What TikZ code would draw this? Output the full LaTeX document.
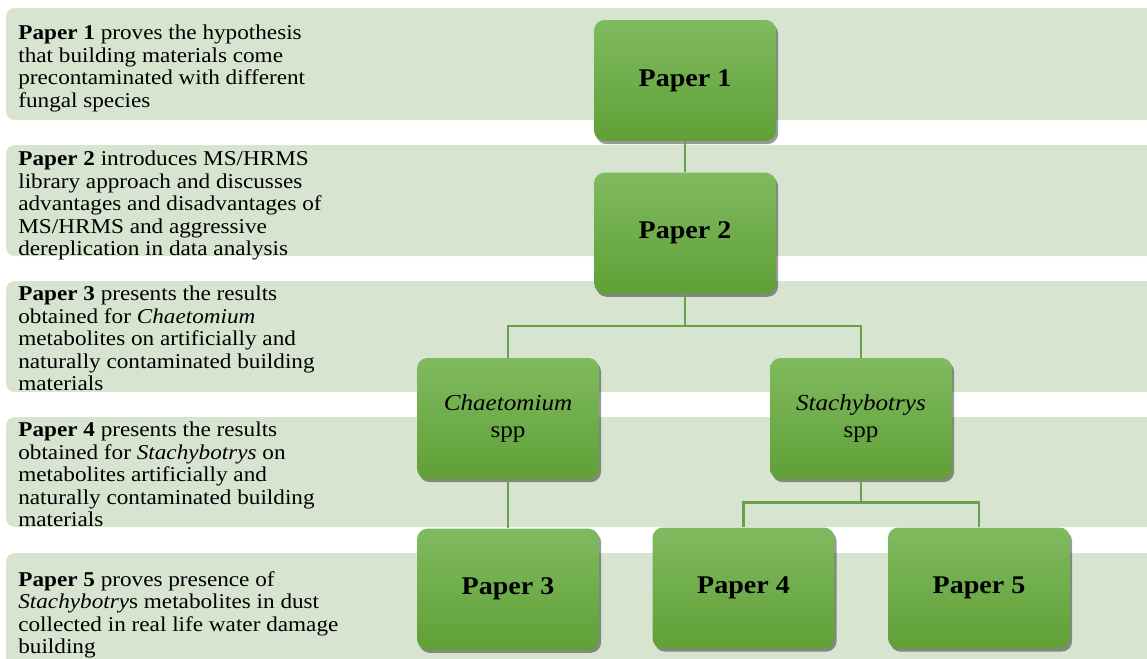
\documentclass[tikz,border=0pt]{standalone}
\usepackage{fontspec}
\setmainfont{Liberation Serif}[FakeStretch=1.1]
\usepackage{xcolor}
\usepackage{tikz}
\usetikzlibrary{positioning,shadows}
\definecolor{bandgreen}{RGB}{215,228,208}
\definecolor{boxtop}{RGB}{128,186,96}
\definecolor{boxbottom}{RGB}{96,160,54}
\definecolor{linkgreen}{RGB}{108,160,72}

\begin{document}
\begin{tikzpicture}[x=0.02cm, y=-0.02cm,
  band/.style={fill=bandgreen, rounded corners=5pt},
  note/.style={anchor=north west, inner sep=0pt, align=left,
    font=\fontsize{12}{12.8}\selectfont},
  paper/.style={rounded corners=6pt, top color=boxtop, bottom color=boxbottom,
    minimum width=3.64cm, minimum height=2.42cm, align=center,
    font=\fontsize{14.5}{16}\selectfont\bfseries,
    drop shadow={shadow xshift=1.2pt, shadow yshift=-1.8pt, fill=black, opacity=.4}},
  genus/.style={paper, font=\fontsize{13}{15.5}\selectfont},
  link/.style={draw=linkgreen, line width=1.5pt}
]
  \clip (0,0) rectangle (1147,659);

  % bands behind the tree
  \fill[band] (6,8) rectangle (1170,120);
  \fill[band] (6,145) rectangle (1170,256);
  \fill[band] (6,281) rectangle (1170,392);
  \fill[band] (6,417) rectangle (1170,527);
  \fill[band] (6,553) rectangle (1170,680);

  \node[note] (t1) at (18,25) {\textbf{Paper 1} proves the hypothesis\\
    that building materials come\\ precontaminated with different\\ fungal species};
  \node[note] (t2) at (18,151) {\textbf{Paper 2} introduces MS/HRMS\\
    library approach and discusses\\ advantages and disadvantages of\\
    MS/HRMS and aggressive\\ dereplication in data analysis};
  \node[note] (t3) at (18,286) {\textbf{Paper 3} presents the results\\
    obtained for \textit{Chaetomium}\\ metabolites on artificially and\\
    naturally contaminated building\\ materials};
  \node[note] (t4) at (18,422) {\textbf{Paper 4} presents the results\\
    obtained for \textit{Stachybotrys} on\\ metabolites artificially and\\
    naturally contaminated building\\ materials};
  \node[note] (t5) at (18,571) {\textbf{Paper 5} proves presence of\\
    \textit{Stachybotry}s metabolites in dust\\ collected in real life water damage\\
    building};

  % tree
  \node[paper] (p1) at (685,80.5) {Paper 1};
  \node[paper, below=0.62cm of p1] (p2) {Paper 2};
  \node[genus] (chae) at (508,418.5) {\textit{Chaetomium}\\ spp};
  \node[genus] (stach) at (861,418.5) {\textit{Stachybotrys}\\ spp};
  \node[paper, below=0.98cm of chae] (p3) {Paper 3};
  \node[paper] (p4) at (743.5,588) {Paper 4};
  \node[paper] (p5) at (979,588) {Paper 5};

  \draw[link] (p1) -- (p2);
  \draw[link] (p2.south) -- ++(0,32) -| (chae.north);
  \draw[link] (p2.south) -- ++(0,32) -| (stach.north);
  \draw[link] (chae) -- (p3);
  \draw[link] (stach.south) -- ++(0,23) -| (p4.north);
  \draw[link] (stach.south) -- ++(0,23) -| (p5.north);
\end{tikzpicture}
\end{document}
